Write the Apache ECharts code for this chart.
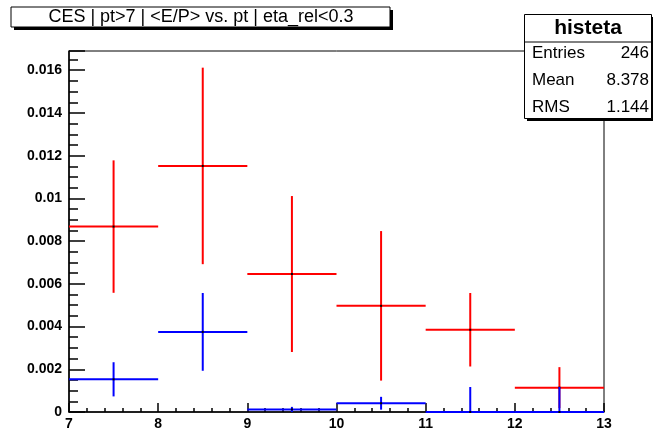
<!DOCTYPE html>
<html>
<head>
<meta charset="utf-8">
<script src="https://cdn.jsdelivr.net/npm/echarts@6/dist/echarts.min.js"></script>
<style>
html,body{margin:0;padding:0;background:#fff;}
#chart{width:653px;height:431px;}
</style>
</head>
<body>
<div id="chart"></div>
<script>
// Bin centers (pt), bin width 1
const binCenters = [7.5, 8.5, 9.5, 10.5, 11.5, 12.5];
const redValues  = [0.00868, 0.01152, 0.00646, 0.00497, 0.00385, 0.00114];
const redErrors  = [0.00310, 0.00460, 0.00365, 0.00350, 0.00172, 0.00096];
const blueValues = [0.00153, 0.00375, 0.00012, 0.00041, 0.0, 0.0];
const blueErrors = [0.00080, 0.00182, 0.00012, 0.00030, 0.00117, 0.00117];
const xTicks = [7, 8, 9, 10, 11, 12, 13];
const yTicks = [0, 0.002, 0.004, 0.006, 0.008, 0.01, 0.012, 0.014, 0.016];
const titleText = 'CES | pt>7 | <E/P> vs. pt | eta_rel<0.3';
const statsName = 'histeta';
const statsRows = [['Entries', '246'], ['Mean', '8.378'], ['RMS', '1.144']];

const chart = echarts.init(document.getElementById('chart'), null, {renderer: 'canvas'});

function makeRender(color) {
  return function (params, api) {
    const c = api.value(0), v = api.value(1), e = api.value(2);
    const hl = api.coord([c - 0.5, v]);
    const hr = api.coord([c + 0.5, v]);
    const vt = api.coord([c, v + e]);
    const vb = api.coord([c, Math.max(0, v - e)]);
    const ce = api.coord([c, v]);
    return {
      type: 'group',
      children: [
        {type: 'line', shape: {x1: hl[0], y1: hl[1], x2: hr[0], y2: hr[1]}, style: {stroke: color, lineWidth: 2}},
        {type: 'line', shape: {x1: vt[0], y1: vt[1], x2: vb[0], y2: vb[1]}, style: {stroke: color, lineWidth: 2}},
        {type: 'rect', shape: {x: ce[0] - 1, y: ce[1] - 1, width: 2, height: 2}, style: {fill: '#000'}}
      ]
    };
  };
}

const redData = binCenters.map((c, i) => [c, redValues[i], redErrors[i]]);
const blueData = binCenters.map((c, i) => [c, blueValues[i], blueErrors[i]]);

const labelFont = {fontFamily: 'Liberation Sans, Arial, sans-serif', fontWeight: 'bold', fontSize: 14, color: '#000'};
const rowFont = '17px "Liberation Sans", Arial, sans-serif';

const option = {
  animation: false,
  grid: {left: 69, right: 49, top: 51, bottom: 18, show: true, borderColor: '#000', borderWidth: 1, backgroundColor: 'transparent'},
  xAxis: {
    type: 'value', min: xTicks[0], max: xTicks[xTicks.length - 1], interval: 1,
    axisLine: {show: true, onZero: false, lineStyle: {color: '#000', width: 1.5}},
    axisTick: {show: true, inside: true, length: 9, lineStyle: {color: '#000', width: 1.5}},
    minorTick: {show: true, splitNumber: 5, length: 4, lineStyle: {color: '#000', width: 1.5}},
    splitLine: {show: false},
    axisLabel: Object.assign({margin: 5}, labelFont)
  },
  yAxis: {
    type: 'value', min: 0, max: 0.0169, interval: 0.002,
    axisLine: {show: true, lineStyle: {color: '#000', width: 1.5}},
    axisTick: {show: true, inside: true, length: 16, lineStyle: {color: '#000', width: 1.5}},
    minorTick: {show: true, splitNumber: 4, length: 9, lineStyle: {color: '#000', width: 1.5}},
    splitLine: {show: false},
    axisLabel: Object.assign({margin: 7, showMaxLabel: false,
      formatter: function (v) { return String(parseFloat(v.toFixed(4))); }}, labelFont)
  },
  series: [
    {type: 'custom', renderItem: makeRender('#ff0000'), data: redData, clip: false, z: 3},
    {type: 'custom', renderItem: makeRender('#0000ff'), data: blueData, clip: false, z: 4}
  ],
  graphic: [
    // title box
    {type: 'rect', shape: {x: 14, y: 10, width: 379, height: 20}, style: {fill: '#000'}, z: 10},
    {type: 'rect', shape: {x: 11, y: 7, width: 379, height: 20}, style: {fill: '#fff', stroke: '#000', lineWidth: 1}, z: 11},
    {type: 'text', x: 201, y: 17.5, style: {text: titleText, fill: '#000', font: '18px "Liberation Sans", Arial, sans-serif', align: 'center', verticalAlign: 'middle'}, z: 12},
    // stats box
    {type: 'rect', shape: {x: 527, y: 17, width: 128, height: 104}, style: {fill: '#000'}, z: 10},
    {type: 'rect', shape: {x: 524.5, y: 14.5, width: 127, height: 104}, style: {fill: '#fff', stroke: '#000', lineWidth: 1}, z: 11},
    {type: 'line', shape: {x1: 524.5, y1: 42, x2: 651.5, y2: 42}, style: {stroke: '#000', lineWidth: 1}, z: 12},
    {type: 'text', x: 588, y: 28, style: {text: statsName, fill: '#000', font: 'bold 21px "Liberation Sans", Arial, sans-serif', align: 'center', verticalAlign: 'middle'}, z: 12}
  ].concat(statsRows.flatMap((r, i) => [
    {type: 'text', x: 532, y: 53 + i * 27, style: {text: r[0], fill: '#000', font: rowFont, align: 'left', verticalAlign: 'middle'}, z: 12},
    {type: 'text', x: 649, y: 53 + i * 27, style: {text: r[1], fill: '#000', font: rowFont, align: 'right', verticalAlign: 'middle'}, z: 12}
  ]))
};
chart.setOption(option);
</script>
</body>
</html>
